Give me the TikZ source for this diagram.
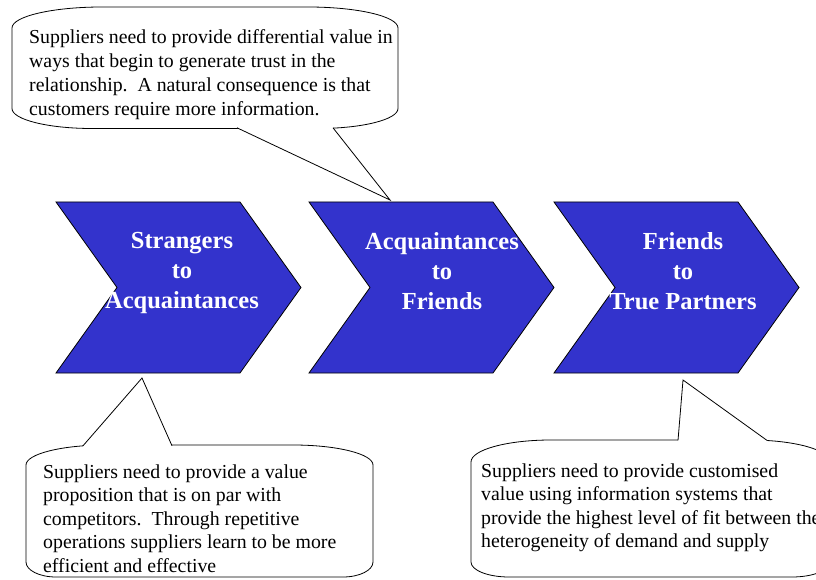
\documentclass[tikz,border=0pt]{standalone}
\usepackage{fontspec}
\setmainfont{Liberation Serif}
\definecolor{chevblue}{RGB}{51,51,204}
\tikzset{
  chev/.style={fill=chevblue, draw=black, line width=0.8pt, line join=miter},
  chevtext/.style={text=white, font=\fontsize{24.5}{30}\selectfont\bfseries, align=center, inner sep=0pt, anchor=north},
  bubble/.style={fill=white, draw=black, line width=0.8pt},
  bubbleedge/.style={draw=black, line width=0.8pt, line join=miter},
  bubbletext/.style={font=\fontsize{19.8}{24}\selectfont, align=left, inner sep=0pt, anchor=north west},
  bubbletextb/.style={bubbletext, font=\fontsize{19.8}{23.4}\selectfont},
}
% chevron: left x
\newcommand\chevronshape[1]{\draw[chev] (#1,377) -- (#1+184,377) -- (#1+245,291.5) -- (#1+184,206) -- (#1,206) -- (#1+61,291.5) -- cycle;}
% callout body: x0 x1 Ytop Ybottom rx ry (top corners) rxb ryb (bottom corners)
\newcommand\bubbleshape[8]{\draw[bubble] (#1,#4+#8) -- (#1,#3-#6)
  arc[start angle=180, end angle=90, x radius=#5, y radius=#6] -- (#2-#5,#3)
  arc[start angle=90, end angle=0, x radius=#5, y radius=#6] -- (#2,#4+#8)
  arc[start angle=0, end angle=-90, x radius=#7, y radius=#8] -- (#1+#7,#4)
  arc[start angle=270, end angle=180, x radius=#7, y radius=#8] -- cycle;}
% pointer: b1x b2x edgeY tipx tipY innerY
\newcommand\calloutptr[6]{\fill[white] (#1,#6) -- (#1,#3) -- (#4,#5) -- (#2,#3) -- (#2,#6) -- cycle; \draw[bubbleedge] (#1,#3) -- (#4,#5) -- (#2,#3);}
\begin{document}
\begin{tikzpicture}[x=1pt,y=1pt]
\path[use as bounding box, fill=white] (0,0) rectangle (816,579);
\clip (0,0) rectangle (816,579);
% chevrons
\chevronshape{56}
\chevronshape{309}
\chevronshape{554}
\node[chevtext] (c1) at (182,347) {Strangers\\to\\Acquaintances};
\node[chevtext] (c2) at (442,347) {Acquaintances\\to\\Friends};
\node[chevtext] (c3) at (683,347) {Friends\\to\\True Partners};
% top callout
\bubbleshape{12}{398}{572}{450.5}{90}{21}{80}{20}
\calloutptr{237}{333}{451.2}{390}{379}{454}
\node[bubbletext] (t1) at (29,549.5) {Suppliers need to provide differential value in\\ways that begin to generate trust in the\\relationship.\ \ A natural consequence is that\\customers require more information.};
% bottom-left callout
\bubbleshape{26}{373}{134}{2}{80}{20}{30}{15}
\calloutptr{83}{172}{133.2}{142}{201}{130.5}
\node[bubbletextb] (t2) at (43,114.5) {Suppliers need to provide a value\\proposition that is on par with\\competitors.\ \ Through repetitive\\operations suppliers learn to be more\\efficient and effective};
% bottom-right callout
\bubbleshape{471}{830}{139}{2}{80}{22}{38}{15}
\calloutptr{678}{767}{138.6}{683}{199}{135.5}
\node[bubbletextb] (t3) at (481,115.5) {Suppliers need to provide customised\\value using information systems that\\provide the highest level of fit between the\\heterogeneity of demand and supply};
\end{tikzpicture}
\end{document}
